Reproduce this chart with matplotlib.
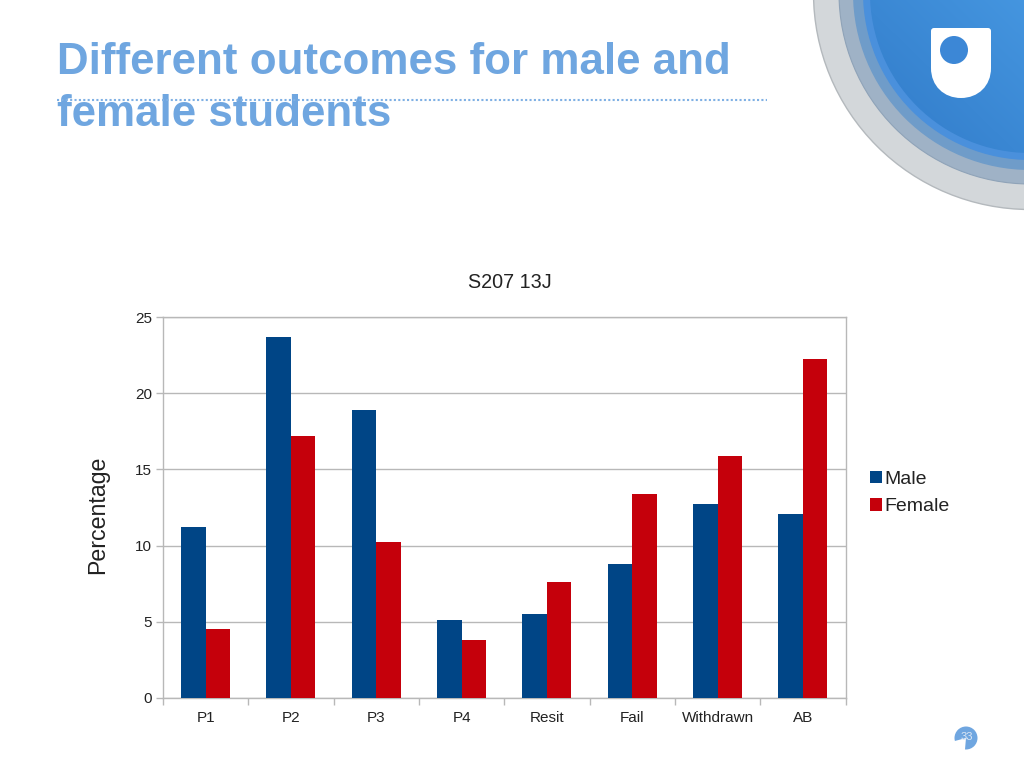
import numpy as np
import matplotlib
matplotlib.use("Agg")
import matplotlib.pyplot as plt
from matplotlib.patches import Circle, Wedge, PathPatch
from matplotlib.path import Path

categories = ["P1", "P2", "P3", "P4", "Resit", "Fail", "Withdrawn", "AB"]
male = [11.2, 23.7, 18.9, 5.1, 5.5, 8.8, 12.7, 12.1]
female = [4.5, 17.2, 10.2, 3.8, 7.6, 13.4, 15.9, 22.3]
y_ticks = [0, 5, 10, 15, 20, 25]
series_names = ["Male", "Female"]

W, H = 1024, 768
plt.rcParams["font.family"] = ["Liberation Sans", "DejaVu Sans"]
fig = plt.figure(figsize=(W / 100, H / 100), dpi=100)

# Slide layer in pixel coordinates
bg = fig.add_axes([0, 0, 1, 1])
bg.axis("off")

cx, cy = 1030, -7
bg.add_patch(Circle((cx, cy), 216.5, fc="#d3d7da", ec="#b4b9bd", lw=1))
bg.add_patch(Circle((cx, cy), 191, fc="#9fb2c6", ec="#8fa3b8", lw=0.8))
bg.add_patch(Circle((cx, cy), 177, fc="#6f9cc9", ec="none"))
bg.add_patch(Circle((cx, cy), 167, fc="#4a90dc", ec="none"))
grad = np.linspace(0, 1, 200)
xx, yy = np.meshgrid(grad, grad)
img = np.zeros((200, 200, 3))
c0 = np.array([0x2f, 0x78, 0xc6]) / 255
c1 = np.array([0x45, 0x96, 0xe0]) / 255
t = np.clip((xx + (1 - yy)) / 2, 0, 1)[..., None]
img[:] = c0 * (1 - t) + c1 * t
im = bg.imshow(img, extent=(860, 1030, 165, 0), zorder=2, aspect="auto")
im.set_clip_path(Circle((cx, cy), 160, transform=bg.transData))
bg.set_xlim(0, W)
bg.set_ylim(H, 0)

# Logo shield
logo = Path(
    [(934, 28), (988, 28), (991, 28), (991, 31), (991, 68), (991, 86), (978, 98), (961, 98),
     (944, 98), (931, 86), (931, 68), (931, 31), (931, 28), (934, 28), (934, 28)],
    [Path.MOVETO, Path.LINETO, Path.CURVE3, Path.CURVE3, Path.LINETO, Path.CURVE4, Path.CURVE4,
     Path.CURVE4, Path.CURVE4, Path.CURVE4, Path.CURVE4, Path.LINETO, Path.CURVE3, Path.CURVE3,
     Path.CLOSEPOLY],
)
bg.add_patch(PathPatch(logo, fc="white", ec="none", zorder=3))
bg.add_patch(Circle((954, 50), 14, fc="#3c87d6", ec="none", zorder=4))

# Title and rule
title_color = "#6fa6e0"
bg.text(57, 62, "Different outcomes for male and", fontsize=31.6, fontweight="bold",
        color=title_color, va="center", ha="left", zorder=5)
bg.text(57, 114, "female students", fontsize=31.6, fontweight="bold",
        color=title_color, va="center", ha="left", zorder=5)
bg.plot([57, 767], [100, 100], color="#7fb0e4", lw=1.5, ls=(0, (1, 1.1)), zorder=6)

# Page badge
bg.add_patch(Circle((966, 738), 11.5, fc="#6fa6e0", ec="none"))
bg.add_patch(Wedge((966, 738), 12.5, 95, 165, fc="white", ec="none"))
bg.text(967, 737, "33", fontsize=8, color="#dbe7f5", ha="center", va="center")

# Chart
ax = fig.add_axes([163 / W, 1 - 697.5 / H, (845.5 - 163) / W, (697.5 - 317.5) / H])
ax.patch.set_alpha(0)
x = np.arange(len(categories))
bw = 24.5 / ((845.5 - 163) / len(categories))
ax.bar(x - bw / 2, male, bw, color="#004586", label=series_names[0], zorder=3)
ax.bar(x + bw / 2, female, bw, color="#c5000b", label=series_names[1], zorder=3)
ax.set_xlim(-0.5, len(categories) - 0.5)
ax.set_ylim(0, 25)
ax.set_yticks(y_ticks)
ax.set_xticks(np.arange(len(categories) + 1) - 0.5, minor=True)
ax.set_xticks(x)
ax.set_xticklabels(categories)
ax.tick_params(axis="x", which="major", length=0, labelsize=11, pad=10, colors="#222222")
ax.tick_params(axis="x", which="minor", length=5, color="#b8b8b8", width=1)
ax.tick_params(axis="y", length=5, color="#b8b8b8", width=1, labelsize=11, pad=3, labelcolor="#222222")
ax.grid(axis="y", color="#b8b8b8", lw=1, zorder=0)
ax.set_axisbelow(True)
for s in ax.spines.values():
    s.set_color("#b8b8b8")
    s.set_linewidth(1)
ax.set_ylabel("Percentage", fontsize=16.7, color="#222222")
ax.yaxis.set_label_coords(-0.079, 0.48)
fig.text(510 / W, 1 - 282 / H, "S207 13J", fontsize=14.2, color="#222222", ha="center", va="center")
handles, labels = ax.get_legend_handles_labels()
leg = fig.legend(handles, labels, loc="center left", bbox_to_anchor=(870 / W, 1 - 493 / H),
                 frameon=False, fontsize=14, handlelength=0.6, handleheight=0.6,
                 handletextpad=0.15, labelspacing=0.55, borderpad=0, borderaxespad=0, labelcolor="#222222")

fig.savefig("out.png", dpi=100)
